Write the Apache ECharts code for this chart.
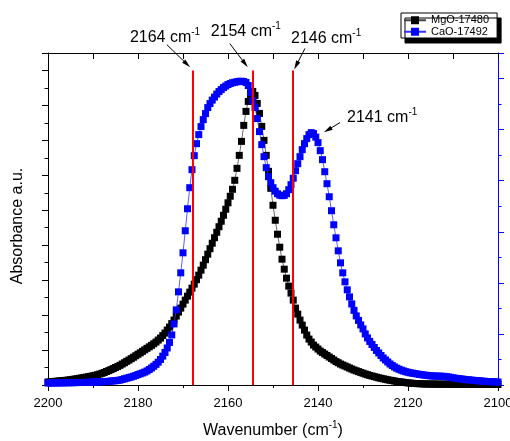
<!DOCTYPE html>
<html><head><meta charset="utf-8">
<script src="https://cdn.jsdelivr.net/npm/echarts@6/dist/echarts.min.js"></script>
<style>html,body{margin:0;padding:0;background:#fff}#c{width:510px;height:441px}</style>
</head><body><div id="c"></div>
<script>
const FONT = "'Liberation Sans', Arial, sans-serif";

// wavenumber sampling grid: 2200 -> 2100 cm-1, step 0.5
const wnStart = 2200;
const wnStep = 0.5;

// MgO-17480 (left axis, a.u.)
const mgo = [
  0.086,0.091,0.097,0.103,0.109,0.114,0.12,0.129,0.134,0.143,
  0.151,0.16,0.171,0.18,0.191,0.203,0.214,0.226,0.237,0.249,
  0.263,0.277,0.294,0.314,0.334,0.357,0.386,0.411,0.44,0.469,
  0.5,0.531,0.563,0.6,0.637,0.677,0.714,0.754,0.794,0.837,
  0.88,0.92,0.963,1.006,1.049,1.091,1.134,1.18,1.229,1.286,
  1.343,1.414,1.486,1.571,1.657,1.757,1.857,1.971,2.086,2.2,
  2.314,2.429,2.543,2.657,2.771,2.886,3.014,3.143,3.286,3.429,
  3.586,3.743,3.9,4.057,4.214,4.371,4.529,4.686,4.857,5.029,
  5.214,5.4,5.6,5.857,6.2,6.571,6.971,7.429,7.829,8.114,
  8.314,8.4,8.286,8.057,7.771,7.4,7.0,6.571,6.114,5.629,
  5.143,4.714,4.314,3.943,3.6,3.314,3.057,2.829,2.629,2.429,
  2.2,2.029,1.857,1.714,1.571,1.429,1.314,1.229,1.143,1.086,
  1.029,0.971,0.929,0.886,0.843,0.8,0.757,0.714,0.671,0.637,
  0.6,0.571,0.543,0.514,0.486,0.457,0.429,0.406,0.383,0.36,
  0.337,0.314,0.294,0.274,0.257,0.24,0.223,0.206,0.191,0.177,
  0.163,0.149,0.137,0.126,0.114,0.103,0.094,0.086,0.077,0.069,
  0.06,0.054,0.049,0.043,0.04,0.037,0.034,0.031,0.029,0.028,
  0.027,0.026,0.026,0.025,0.024,0.024,0.023,0.023,0.022,0.022,
  0.021,0.021,0.02,0.02,0.02,0.019,0.019,0.019,0.018,0.018,
  0.018,0.017,0.017,0.017,0.016,0.016,0.016,0.015,0.015,0.015,
  0.015
];

// CaO-17492 (right axis, a.u.)
const cao = [
  0.039,0.039,0.039,0.041,0.041,0.041,0.043,0.043,0.043,0.045,
  0.045,0.045,0.047,0.047,0.049,0.049,0.051,0.051,0.053,0.055,
  0.057,0.059,0.061,0.063,0.065,0.067,0.069,0.073,0.076,0.08,
  0.084,0.09,0.096,0.108,0.122,0.133,0.145,0.157,0.171,0.186,
  0.204,0.22,0.235,0.253,0.275,0.304,0.333,0.367,0.404,0.447,
  0.5,0.565,0.637,0.725,0.833,0.98,1.196,1.471,1.824,2.196,
  2.588,3.02,3.451,3.863,4.216,4.49,4.725,4.902,5.059,5.196,
  5.314,5.431,5.51,5.578,5.637,5.696,5.745,5.784,5.824,5.853,
  5.882,5.902,5.918,5.927,5.937,5.945,5.947,5.941,5.922,5.863,
  5.725,5.569,5.431,5.216,4.961,4.706,4.471,4.255,4.078,3.961,
  3.863,3.794,3.745,3.716,3.706,3.712,3.745,3.824,3.922,4.049,
  4.196,4.333,4.471,4.608,4.725,4.824,4.902,4.941,4.922,4.853,
  4.745,4.588,4.412,4.176,3.941,3.686,3.412,3.137,2.882,2.627,
  2.392,2.196,2.02,1.863,1.725,1.588,1.461,1.353,1.265,1.176,
  1.098,1.0,0.922,0.853,0.794,0.735,0.676,0.627,0.578,0.529,
  0.49,0.451,0.412,0.382,0.353,0.329,0.308,0.29,0.275,0.261,
  0.249,0.239,0.231,0.224,0.216,0.208,0.202,0.196,0.19,0.184,
  0.18,0.176,0.175,0.173,0.173,0.171,0.169,0.163,0.157,0.149,
  0.141,0.133,0.127,0.122,0.116,0.11,0.104,0.1,0.096,0.092,
  0.088,0.084,0.08,0.076,0.073,0.069,0.067,0.065,0.063,0.061,
  0.059
];

const seriesNames = ['MgO-17480', 'CaO-17492'];
// red marker lines (wavenumber) and their top (left-axis units)
const peakLines = [2167.8, 2154.5, 2145.7];
const peakLineTop = 9;
// annotations
const annoLabels = ['2164', '2154', '2146', '2141'];
const annoTextAt = [[2181.8, 9.937], [2163.85, 10.109], [2146.0, 9.9], [2133.55, 7.643]];
const arrowFrom = [[2173.6, 9.74], [2159.6, 9.77], [2142.9, 9.63], [2135.1, 7.51]];
const arrowTo = [[2168.4, 9.09], [2155.6, 9.09], [2145.3, 9.03], [2138.7, 7.23]];

const wn = mgo.map((_, i) => wnStart - i * wnStep);

const chart = echarts.init(document.getElementById('c'), null, {renderer: 'canvas'});

const axisBase = {
  splitLine: {show: false}, minorSplitLine: {show: false}
};

const option = {
  animation: false,
  backgroundColor: '#fff',
  textStyle: {fontFamily: FONT},
  grid: {left: 48, right: 12, top: 53, bottom: 56, containLabel: false, outerBoundsMode: 'none'},
  legend: {
    show: true, data: seriesNames, orient: 'vertical', left: 401, top: 13,
    padding: [1.5, 8, 0.5, 2], itemGap: 0, itemWidth: 22, itemHeight: 10,
    textStyle: {fontSize: 11, color: '#000', fontFamily: FONT, lineHeight: 11.5},
    backgroundColor: '#fff', borderColor: '#000', borderWidth: 1, borderRadius: 0,
    shadowColor: '#000', shadowBlur: 0, shadowOffsetX: 4, shadowOffsetY: 5,
    selectedMode: false
  },
  xAxis: [
    Object.assign({
      type: 'value', position: 'bottom', inverse: true, min: 2100, max: 2200, interval: 20,
      axisLine: {show: true, onZero: false, lineStyle: {color: '#000', width: 1}},
      axisTick: {show: true, inside: false, length: 6, lineStyle: {color: '#000'}},
      minorTick: {show: true, splitNumber: 2, length: 3, lineStyle: {color: '#000'}},
      axisLabel: {show: true, margin: 12, fontSize: 13, color: '#000', fontFamily: FONT,
        showMinLabel: true, showMaxLabel: true, hideOverlap: false,
        formatter: v => String(Math.round(v))}
    }, axisBase),
    Object.assign({
      type: 'value', position: 'top', inverse: true, min: 2100, max: 2200, interval: 10,
      axisLine: {show: true, onZero: false, lineStyle: {color: '#000', width: 1}},
      axisTick: {show: true, inside: true, length: 6, lineStyle: {color: '#000'}},
      axisLabel: {show: false}
    }, axisBase)
  ],
  yAxis: [
    Object.assign({
      type: 'value', position: 'left', min: 0, max: 9.5, interval: 1,
      axisLine: {show: true, onZero: false, lineStyle: {color: '#000', width: 1}},
      axisTick: {show: true, inside: false, length: 6, lineStyle: {color: '#000'}},
      minorTick: {show: true, splitNumber: 2, length: 3.5, lineStyle: {color: '#000'}},
      axisLabel: {show: false}
    }, axisBase),
    Object.assign({
      type: 'value', position: 'right', min: 0, max: 6.5, interval: 1,
      axisLine: {show: true, onZero: false, lineStyle: {color: '#0000ff', width: 1}},
      axisTick: {show: true, inside: false, length: 6, lineStyle: {color: '#0000ff'}},
      minorTick: {show: true, splitNumber: 2, length: 3.5, lineStyle: {color: '#0000ff'}},
      axisLabel: {show: false}
    }, axisBase)
  ],
  series: [
    {
      name: seriesNames[0], type: 'line', xAxisIndex: 0, yAxisIndex: 0,
      data: mgo.map((v, i) => [wn[i], v]),
      symbol: 'rect', symbolSize: 7, showSymbol: true, showAllSymbol: true,
      itemStyle: {color: '#000'}, lineStyle: {color: '#444', width: 0.8},
      emphasis: {disabled: true}, z: 2
    },
    {
      name: seriesNames[1], type: 'line', xAxisIndex: 0, yAxisIndex: 1,
      data: cao.map((v, i) => [wn[i], v]),
      symbol: 'rect', symbolSize: 7, showSymbol: true, showAllSymbol: true,
      itemStyle: {color: '#0000ff'}, lineStyle: {color: '#3333ff', width: 0.8},
      emphasis: {disabled: true}, z: 3
    },
    {
      name: 'peaks', type: 'line', xAxisIndex: 0, yAxisIndex: 0, data: [], z: 6,
      markLine: {
        silent: true, symbol: ['none', 'none'], label: {show: false}, animation: false,
        lineStyle: {color: '#ff0000', width: 2, type: 'solid'},
        emphasis: {disabled: true},
        data: peakLines.map(x => [{coord: [x, 0]}, {coord: [x, peakLineTop]}])
      }
    }
  ]
};
chart.setOption(option);

function px(p) { return chart.convertToPixel({seriesIndex: 0}, p); }
const mctx = document.createElement('canvas').getContext('2d');
function tw(text, size) { mctx.font = size + 'px ' + FONT; return mctx.measureText(text).width; }

const g = [];
// parts: [text, fontSize, dy]
function richText(x, ymid, parts, align) {
  const widths = parts.map(p => tw(p[0], p[1]));
  const total = widths.reduce((a, b) => a + b, 0);
  let cx = align === 'center' ? x - total / 2 : x;
  parts.forEach((p, i) => {
    g.push({type: 'text', x: cx, y: ymid + p[2], silent: true, z: 100,
      style: {text: p[0], fill: '#000', font: p[1] + 'px ' + FONT, align: 'left', verticalAlign: 'middle'}});
    cx += widths[i];
  });
}
function arrow(a, b) {
  const p = px(a), q = px(b);
  const dx = q[0] - p[0], dy = q[1] - p[1];
  const L = Math.hypot(dx, dy), ux = dx / L, uy = dy / L;
  const hl = 9, hw = 2.3;
  const bx = q[0] - ux * hl, by = q[1] - uy * hl;
  g.push({type: 'line', silent: true, z: 100, shape: {x1: p[0], y1: p[1], x2: bx + ux, y2: by + uy},
    style: {stroke: '#000', lineWidth: 1}});
  g.push({type: 'polygon', silent: true, z: 100,
    shape: {points: [[q[0], q[1]], [bx - uy * hw, by + ux * hw], [bx + uy * hw, by - ux * hw]]},
    style: {fill: '#000'}});
}

annoLabels.forEach((lab, i) => {
  const p = px(annoTextAt[i]);
  richText(p[0], p[1], [[lab + ' cm', 16, 0], ['-1', 10, -5.5]], 'left');
  arrow(arrowFrom[i], arrowTo[i]);
});

// axis titles
richText(273, 430.8, [['Wavenumber (cm', 16, 0], ['-1', 10, -6], [')', 16, 0]], 'center');
g.push({type: 'text', x: 18, y: 226, rotation: Math.PI / 2, silent: true, z: 100,
  style: {text: 'Absorbance a.u.', fill: '#000', font: '16px ' + FONT, align: 'center', verticalAlign: 'middle'}});

chart.setOption({graphic: {elements: g}});
</script>
</body></html>
